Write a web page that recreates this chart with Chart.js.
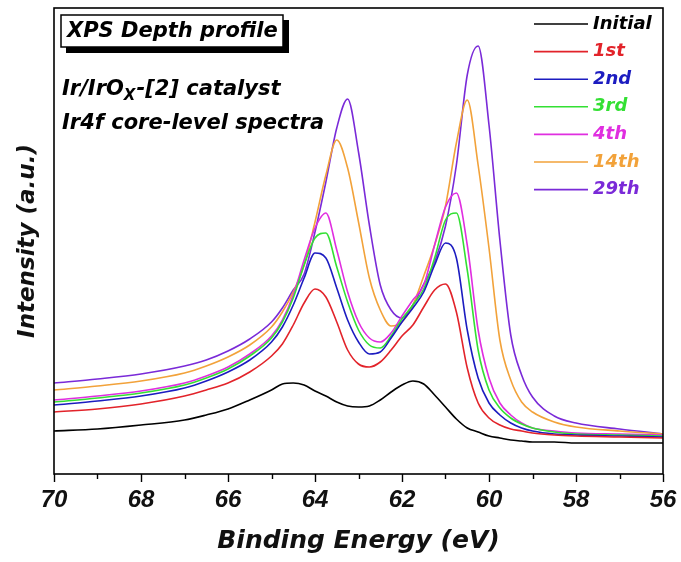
<!DOCTYPE html>
<html>
<head>
<meta charset="utf-8">
<script src="https://cdn.jsdelivr.net/npm/chart.js@4.4.0/dist/chart.umd.min.js"></script>
<style>
  html, body { margin: 0; padding: 0; background: #fff; }
  #wrap { width: 681px; height: 562px; }
</style>
</head>
<body>
<div id="wrap"><canvas id="myChart" width="681" height="562"></canvas></div>
<script>
Chart.defaults.font.family = '"DejaVu Sans", sans-serif';
Chart.defaults.color = '#000';

// binding energy (eV), x axis runs 70 -> 56
const energy = [70, 69, 68, 67, 66.5, 66, 65.5, 65, 64.75, 64.5, 64.25, 64, 63.75, 63.5, 63.25, 63,
  62.75, 62.5, 62.25, 62, 61.75, 61.5, 61.25, 61, 60.75, 60.5, 60.25, 60, 59.75, 59.5, 59.25, 59,
  58.5, 58, 57, 56];

// intensities (a.u.)
const initial = [43, 45, 49, 54, 59, 65, 74, 84, 90, 91, 89, 83, 78, 72, 68, 67,
  68, 74, 82, 89, 93, 90, 79, 67, 55, 46, 42, 38, 36, 34, 33, 32, 32, 31, 31, 31];
const run1 = [62, 65, 70, 78, 84, 91, 102, 118, 130, 149, 171, 185, 177, 152, 124, 110,
  107, 112, 124, 138, 149, 167, 184, 190, 162, 106, 71, 56, 49, 45, 43, 41, 39, 38, 37, 36];
const run2 = [69, 73, 78, 86, 93, 102, 114, 132, 147, 169, 196, 221, 216, 186, 154, 132,
  120, 122, 136, 152, 166, 182, 209, 231, 216, 144, 96, 71, 59, 51, 46, 43, 40, 39, 38, 37];
const run3 = [72, 76, 81, 89, 96, 105, 118, 136, 152, 176, 209, 236, 241, 207, 172, 144,
  129, 126, 138, 155, 169, 185, 216, 254, 261, 204, 124, 84, 66, 56, 50, 46, 42, 40, 39, 38];
const run4 = [74, 78, 83, 91, 98, 107, 120, 138, 154, 179, 214, 246, 261, 224, 182, 152,
  136, 132, 141, 158, 174, 189, 229, 267, 281, 229, 144, 96, 71, 59, 51, 46, 43, 41, 40, 39];
const run14 = [84, 88, 93, 101, 108, 117, 129, 147, 162, 182, 209, 252, 299, 334, 306, 252,
  196, 164, 148, 152, 169, 198, 229, 268, 331, 374, 309, 226, 134, 94, 72, 62, 52, 47, 43, 40];
const run29 = [91, 95, 100, 108, 114, 123, 135, 152, 166, 184, 200, 242, 292, 346, 375, 322,
  249, 189, 164, 156, 169, 190, 212, 248, 309, 399, 428, 349, 234, 139, 99, 77, 58, 51, 45, 40];

const seriesNames = ['Initial', '1st', '2nd', '3rd', '4th', '14th', '29th'];
const seriesValues = [initial, run1, run2, run3, run4, run14, run29];
const seriesColors = ['#000000', '#e2232a', '#1c1cc0', '#33e033', '#e02ee0', '#f2a23a', '#7a2ad8'];

const xTicks = [70, 68, 66, 64, 62, 60, 58, 56];

function toPoints(values) {
  return values.map((v, i) => ({ x: energy[i], y: v }));
}

const datasets = seriesNames.map((name, i) => ({
  label: name,
  data: toPoints(seriesValues[i]),
  borderColor: seriesColors[i],
  backgroundColor: seriesColors[i],
  borderWidth: 1.6,
  pointRadius: 0,
  cubicInterpolationMode: 'monotone',
  fill: false,
}));

// frame, minor ticks, legend and the text notes
const decor = {
  id: 'decor',
  afterDraw(chart) {
    const { ctx, chartArea: a } = chart;
    const xs = chart.scales.x;
    ctx.save();

    ctx.strokeStyle = '#000';
    ctx.lineWidth = 1.6;
    ctx.strokeRect(a.left, a.top, a.right - a.left, a.bottom - a.top);

    // minor ticks on the odd energies
    ctx.lineWidth = 1.4;
    for (let e = 69; e > 56; e -= 2) {
      const px = Math.round(xs.getPixelForValue(e)) + 0.5;
      ctx.beginPath();
      ctx.moveTo(px, a.bottom);
      ctx.lineTo(px, a.bottom + 5);
      ctx.stroke();
    }

    // legend
    ctx.font = 'italic bold 18px "DejaVu Sans"';
    ctx.textBaseline = 'middle';
    ctx.textAlign = 'left';
    chart.data.datasets.forEach((ds, i) => {
      const y = 24 + i * 27.6;
      ctx.strokeStyle = ds.borderColor;
      ctx.lineWidth = 1.6;
      ctx.beginPath();
      ctx.moveTo(534, y);
      ctx.lineTo(588, y);
      ctx.stroke();
      ctx.fillStyle = ds.borderColor;
      ctx.fillText(ds.label, 593, y);
    });

    // boxed title with shadow
    ctx.fillStyle = '#000';
    ctx.fillRect(66, 20, 223, 33);
    ctx.fillStyle = '#fff';
    ctx.fillRect(61, 15, 222, 32);
    ctx.strokeStyle = '#000';
    ctx.lineWidth = 1.5;
    ctx.strokeRect(61, 15, 222, 32);
    ctx.fillStyle = '#000';
    ctx.font = 'italic bold 21px "DejaVu Sans"';
    ctx.fillText('XPS Depth profile', 67, 32);

    // sample notes
    ctx.font = 'italic bold 21px "DejaVu Sans"';
    let x = 62;
    ctx.fillText('Ir/IrO', x, 90);
    x += ctx.measureText('Ir/IrO').width;
    ctx.font = 'italic bold 15px "DejaVu Sans"';
    ctx.fillText('X', x, 96);
    x += ctx.measureText('X').width + 1;
    ctx.font = 'italic bold 21px "DejaVu Sans"';
    ctx.fillText('-[2] catalyst', x, 90);
    ctx.fillText('Ir4f core-level spectra', 62, 124);

    ctx.restore();
  }
};

const config = {
  type: 'line',
  data: { datasets: datasets },
  options: {
    responsive: false,
    animation: false,
    layout: { padding: { top: 8, right: 18, left: 0, bottom: 0 } },
    plugins: {
      legend: { display: false },
      tooltip: { enabled: false },
    },
    scales: {
      x: {
        type: 'linear',
        reverse: true,
        min: 56,
        max: 70,
        afterFit(scale) { scale.height = 88; },
        border: { display: false },
        grid: {
          drawOnChartArea: false,
          drawTicks: true,
          tickLength: 8,
          tickWidth: 1.4,
          tickColor: (c) => (xTicks.includes(c.tick.value) ? '#000' : 'rgba(0,0,0,0)'),
        },
        ticks: {
          stepSize: 1,
          padding: 4,
          autoSkip: false,
          maxRotation: 0,
          color: '#111',
          font: { family: '"Liberation Sans"', size: 24, style: 'italic', weight: 'bold' },
          callback: (v) => (xTicks.includes(v) ? String(v) : ''),
        },
        title: {
          display: true,
          text: 'Binding Energy (eV)',
          color: '#111',
          font: { size: 25, style: 'italic', weight: 'bold' },
          padding: { bottom: 6 },
        },
      },
      y: {
        min: 0,
        max: 466,
        afterFit(scale) { scale.width = 54; },
        border: { display: false },
        grid: { display: false },
        ticks: { display: false },
        title: {
          display: true,
          text: 'Intensity (a.u.)',
          color: '#111',
          font: { size: 23, style: 'italic', weight: 'bold' },
          padding: { top: 14 },
        },
      },
    },
  },
  plugins: [decor],
};

var ctx = document.getElementById('myChart').getContext('2d');
var myChart = new Chart(ctx, config);
</script>
</body>
</html>
